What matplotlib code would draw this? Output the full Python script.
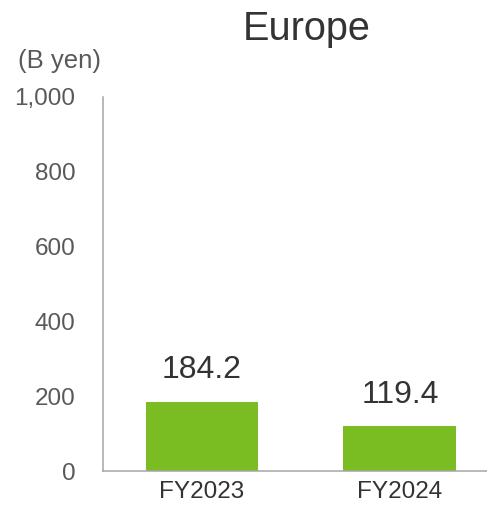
import matplotlib.pyplot as plt
from matplotlib.ticker import FuncFormatter

# Europe revenue, billions of yen
categories = ["FY2023", "FY2024"]
values = [184.2, 119.4]
yticks = [0, 200, 400, 600, 800, 1000]

BAR_COLOR = "#7abd22"
TEXT_DARK = "#333333"
TEXT_GRAY = "#595959"
AXIS_GRAY = "#a6a6a6"

plt.rcParams["font.family"] = ["Liberation Sans", "DejaVu Sans"]

fig = plt.figure(figsize=(4.87, 5.05), dpi=100)
ax = fig.add_axes([103 / 487, 1 - 471 / 505, 1 - 103 / 487, 374 / 505])

x = range(len(categories))
bars = ax.bar(x, values, width=0.57, color=BAR_COLOR, zorder=2)
for rect, v in zip(bars, values):
    ax.annotate(
        f"{v:.1f}",
        (rect.get_x() + rect.get_width() / 2, rect.get_height()),
        xytext=(0, 12),
        textcoords="offset points",
        ha="center",
        va="bottom",
        fontsize=23,
        color=TEXT_DARK,
    )

ax.set_xlim(-0.5, 1.44)
ax.set_ylim(0, 1000)
ax.set_xticks(list(x))
ax.set_xticklabels(categories)
ax.set_yticks(yticks)
ax.yaxis.set_major_formatter(FuncFormatter(lambda v, _: f"{int(v):,}"))
ax.tick_params(axis="y", length=0, pad=20, labelsize=17.5, labelcolor=TEXT_GRAY)
ax.tick_params(axis="x", length=0, pad=7, labelsize=17.5, labelcolor=TEXT_DARK)

for side in ("top", "right"):
    ax.spines[side].set_visible(False)
for side in ("left", "bottom"):
    ax.spines[side].set_color(AXIS_GRAY)
    ax.spines[side].set_linewidth(1.1)

fig.text(18 / 487, 1 - 61 / 505, "(B yen)", ha="left", va="center",
         fontsize=18.5, color=TEXT_GRAY)
fig.text(307 / 487, 1 - 29 / 505, "Europe", ha="center", va="center",
         fontsize=28.5, color=TEXT_DARK)

fig.savefig("out.png", dpi=100)
